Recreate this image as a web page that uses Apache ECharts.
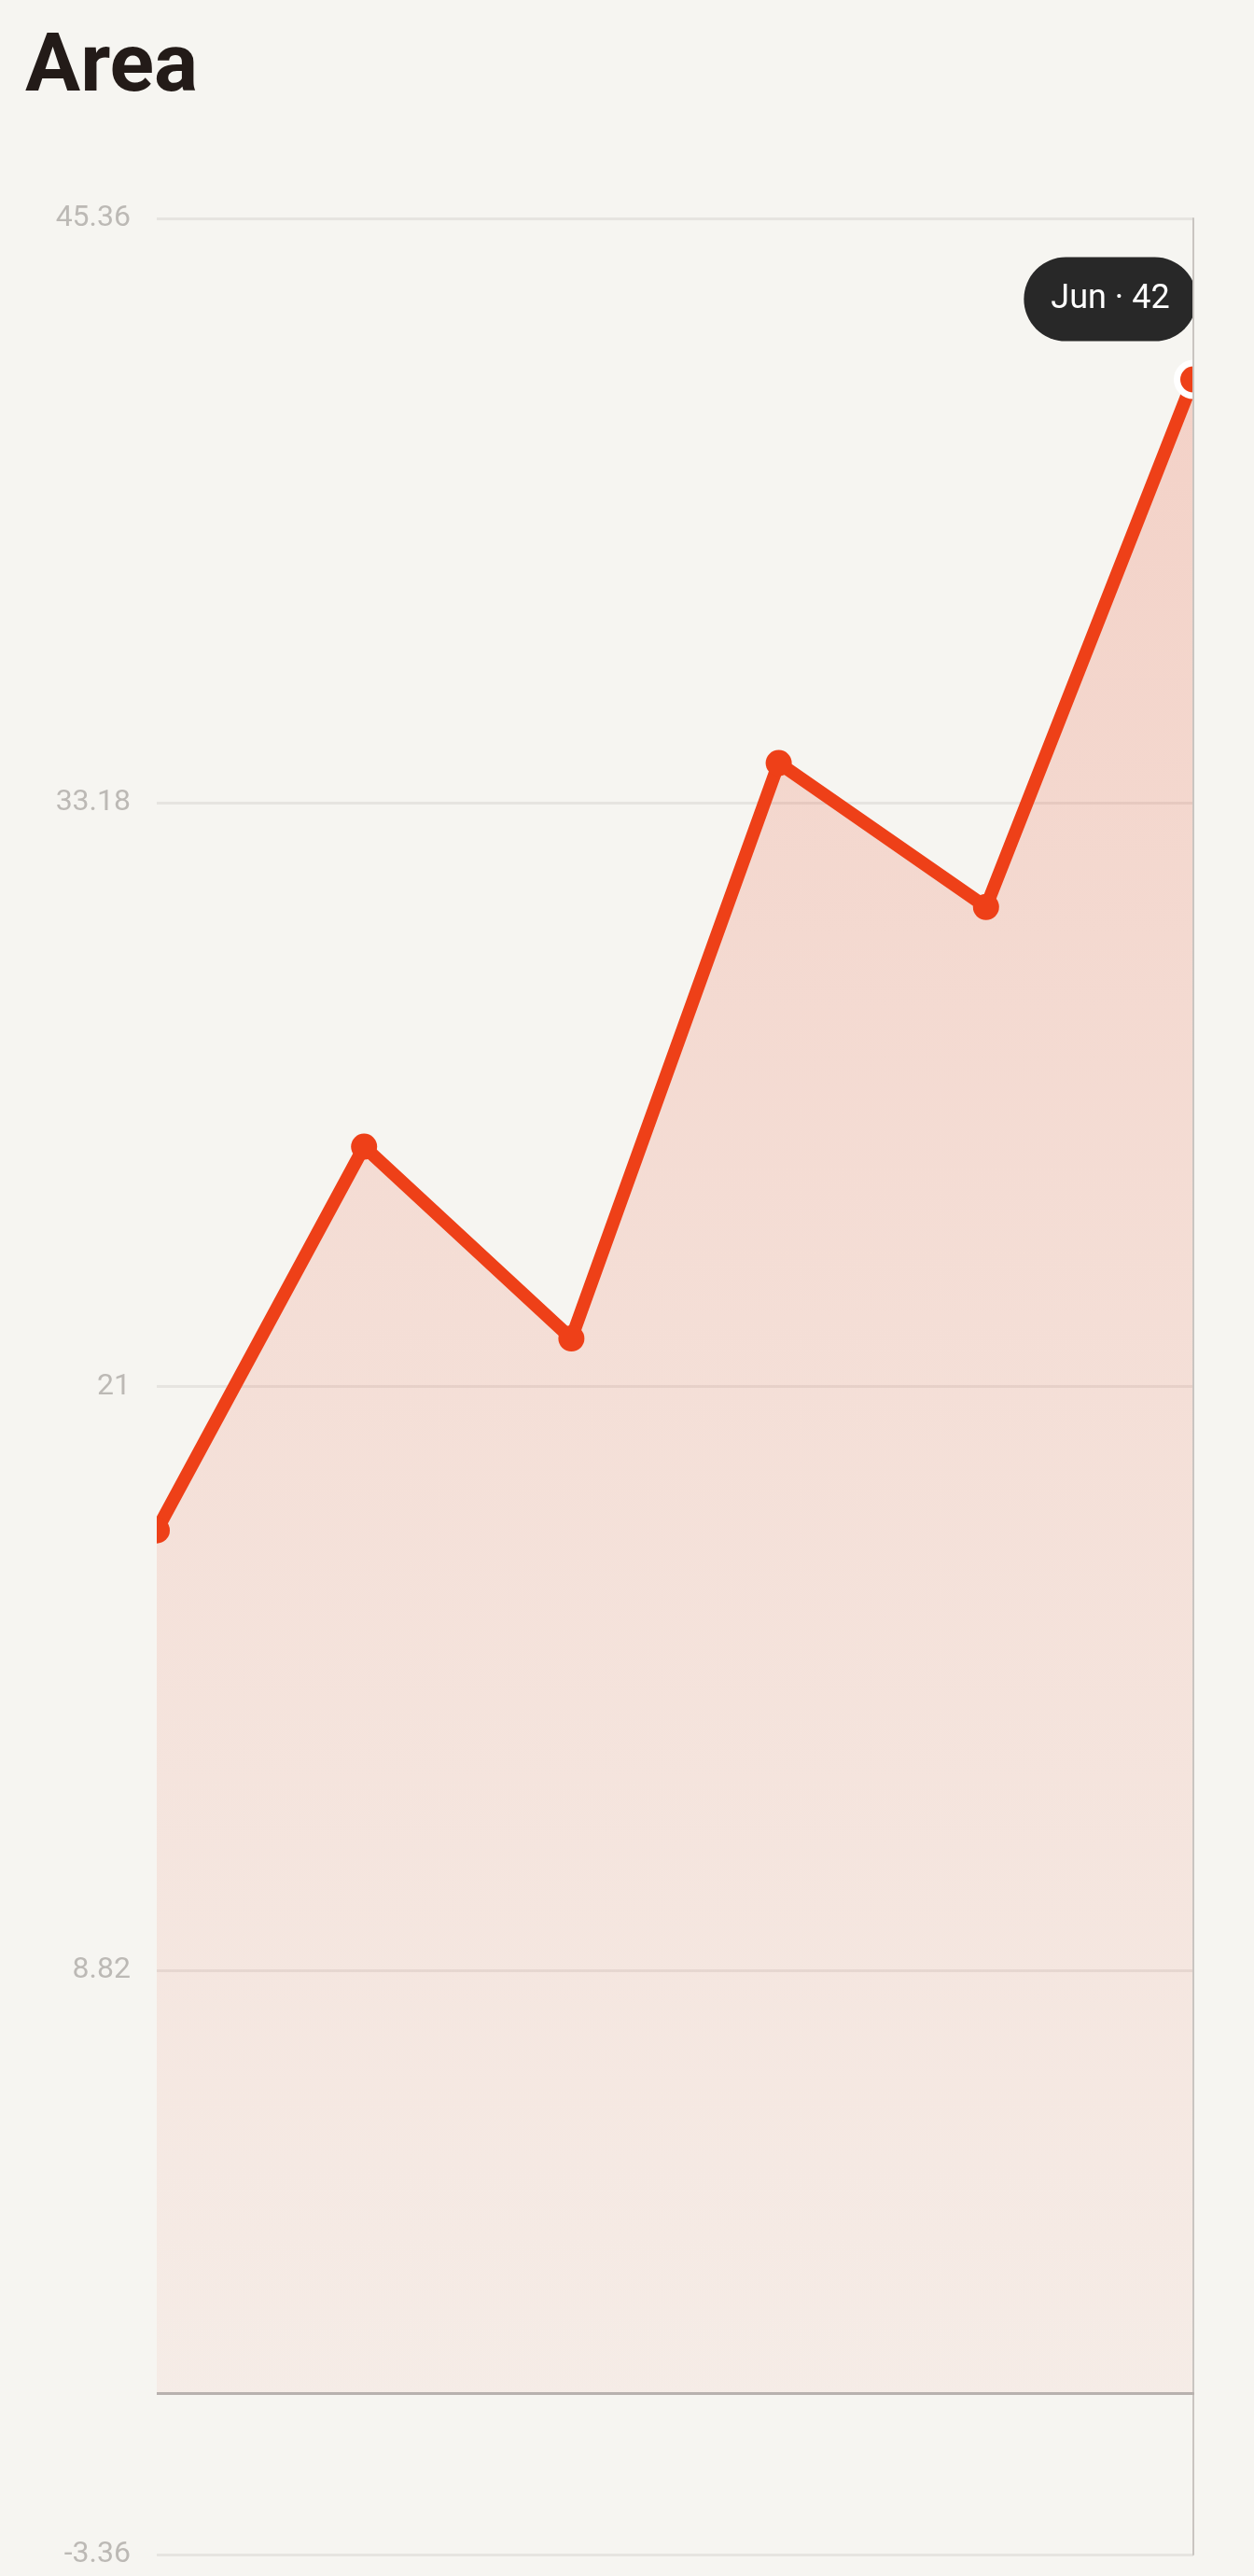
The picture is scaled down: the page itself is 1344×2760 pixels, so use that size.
<!DOCTYPE html>
<html>
<head>
<meta charset="utf-8">
<script src="https://cdn.jsdelivr.net/npm/echarts@6/dist/echarts.min.js"></script>
<style>
  html, body { margin: 0; padding: 0; background: #f6f5f1; }
  #chart { width: 1344px; height: 2760px; }
</style>
</head>
<body>
<div id="chart"></div>
<script>
// ---- data ----
const titleText = 'Area';
const categories = ['Jan', 'Feb', 'Mar', 'Apr', 'May', 'Jun'];
const values = [18, 26, 22, 34, 31, 42];
const yTicks = [-3.36, 8.82, 21, 33.18, 45.36];
const highlightIndex = 5;

// ---- styling ----
const BG = '#f6f5f1';
const RED = '#ee4018';
const FONT = 'Roboto';
const GRID = { left: 168, right: 65, top: 234, bottom: 23 };

const yMin = yTicks[0];
const yMax = yTicks[yTicks.length - 1];
const yInterval = Math.round((yTicks[1] - yTicks[0]) * 100) / 100;

const seriesData = values.map((v, i) => {
  if (i !== highlightIndex) return v;
  return {
    value: v,
    symbolSize: 35,
    itemStyle: { color: RED, borderColor: '#ffffff', borderWidth: 7 },
    label: {
      show: true,
      position: 'top',
      distance: 20,
      offset: [-89, 0],
      formatter: categories[i] + ' \u00b7 ' + v,
      color: '#ffffff',
      fontFamily: FONT,
      fontSize: 36,
      lineHeight: 36,
      backgroundColor: '#282828',
      borderRadius: 45,
      padding: [27, 29]
    }
  };
});

const chart = echarts.init(document.getElementById('chart'), null, { renderer: 'canvas' });

const option = {
  backgroundColor: BG,
  animation: false,
  title: {
    text: titleText,
    left: 22,
    top: 26,
    textStyle: { fontFamily: FONT, fontSize: 88, fontWeight: 'bold', color: '#231b18' }
  },
  grid: GRID,
  xAxis: {
    type: 'category',
    data: categories,
    boundaryGap: false,
    z: 3,
    axisLine: { show: true, onZero: true, lineStyle: { color: '#b8b1ae', width: 3 } },
    axisTick: { show: false },
    axisLabel: { show: false },
    splitLine: { show: false }
  },
  yAxis: [
    {
      type: 'value',
      min: yMin,
      max: yMax,
      interval: yInterval,
      axisLine: { show: false },
      axisTick: { show: false },
      axisLabel: { color: '#bcb9b5', fontFamily: FONT, fontSize: 32, margin: 28 },
      splitLine: { show: true, lineStyle: { color: '#e6e4e0', width: 3 } }
    },
    {
      type: 'value',
      position: 'right',
      min: yMin,
      max: yMax,
      interval: yInterval,
      z: 3,
      axisLine: { show: true, lineStyle: { color: '#c9c5c1', width: 2 } },
      axisTick: { show: false },
      axisLabel: { show: false },
      splitLine: { show: false }
    }
  ],
  series: [
    {
      type: 'line',
      data: seriesData,
      yAxisIndex: 0,
      symbol: 'circle',
      symbolSize: 28,
      showAllSymbol: true,
      clip: false,
      z: 2,
      lineStyle: { color: RED, width: 14, join: 'round' },
      itemStyle: { color: RED },
      areaStyle: {
        color: new echarts.graphic.LinearGradient(0, 0, 0, 1, [
          { offset: 0, color: 'rgba(232,64,28,0.28)' },
          { offset: 1, color: 'rgba(232,64,28,0.07)' }
        ])
      },
      emphasis: { disabled: true },
      silent: true
    }
  ]
};

chart.setOption(option);

// Clip the end markers at the plot edges (like the reference) using masks
// placed from the library's own pixel conversion of the grid boundaries.
const leftPx = chart.convertToPixel({ xAxisIndex: 0 }, categories[0]);
const rightPx = chart.convertToPixel({ xAxisIndex: 0 }, categories[categories.length - 1]);
const topPx = chart.convertToPixel({ yAxisIndex: 0 }, yMax);
const botPx = chart.convertToPixel({ yAxisIndex: 0 }, yMin);
chart.setOption({
  graphic: [
    {
      type: 'rect', z: 10, silent: true,
      shape: { x: leftPx - 24, y: topPx, width: 24, height: botPx - topPx },
      style: { fill: BG }
    },
    {
      type: 'rect', z: 10, silent: true,
      shape: { x: rightPx + 1, y: topPx - 40, width: 1344 - rightPx, height: botPx - topPx + 80 },
      style: { fill: BG }
    }
  ]
});
</script>
</body>
</html>
